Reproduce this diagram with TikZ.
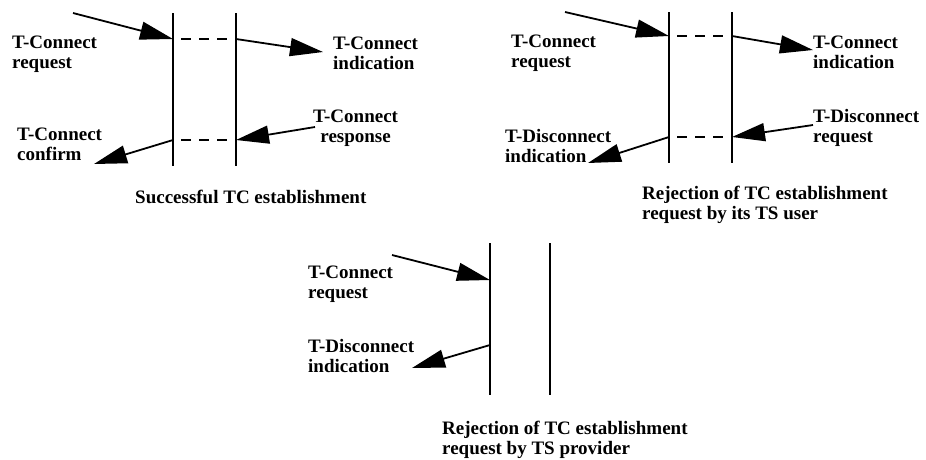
\documentclass[tikz,border=0pt]{standalone}
\usepackage{fontspec}
\setmainfont{Liberation Serif}
\usetikzlibrary{arrows.meta}
\tikzset{
  lifeline/.style={line width=2pt},
  gapline/.style={line width=2pt, dash pattern=on 10pt off 8pt, dash phase=10pt},
  prim/.style={line width=1.8pt, -{Triangle[length=33pt,width=18pt]}},
  % labels are placed by the baseline of their last line
  lbl/.style={inner sep=0pt, anchor=base west, align=left,
    font=\bfseries\fontsize{19}{20}\selectfont},
  lblc/.style={lbl, align=center},
  captiontext/.style={lbl}
}
\begin{document}
\begin{tikzpicture}[x=1pt,y=-1pt]
\useasboundingbox (0,0) rectangle (926,459);

% ---------- successful establishment ----------
\coordinate (a-lt) at (173,13);  \coordinate (a-lb) at (173,166);
\coordinate (a-rt) at (236,13);  \coordinate (a-rb) at (236,166);
\coordinate (a-l1) at (173,39);  \coordinate (a-r1) at (236,39);
\coordinate (a-l2) at (173,140); \coordinate (a-r2) at (236,140);
\coordinate (a-reqs) at (73,13);
\coordinate (a-inde) at (323,52);
\coordinate (a-ress) at (315,127);
\coordinate (a-cone) at (94,164);

\draw[lifeline] (a-lt) -- (a-lb);
\draw[lifeline] (a-rt) -- (a-rb);
\draw[gapline] (a-l1) -- (a-r1);
\draw[gapline] (a-l2) -- (a-r2);
\draw[prim] (a-reqs) -- (a-l1);
\draw[prim] (a-r1) -- (a-inde);
\draw[prim] (a-ress) -- (a-r2);
\draw[prim] (a-l2) -- (a-cone);

\node[lbl] (a-req) at (12,68) {T-Connect\\request};
\node[lbl] (a-ind) at (333,69) {T-Connect\\indication};
\node[lblc] (a-res) at (313,142) {T-Connect\\response};
\node[lbl] (a-con) at (17,160) {T-Connect\\confirm};
\node[captiontext] (a-cap) at (135,203) {Successful TC establishment};

% ---------- rejection by the TS user ----------
\coordinate (b-lt) at (669,12);  \coordinate (b-lb) at (669,163);
\coordinate (b-rt) at (732,12);  \coordinate (b-rb) at (732,163);
\coordinate (b-l1) at (669,36);  \coordinate (b-r1) at (732,36);
\coordinate (b-l2) at (669,137); \coordinate (b-r2) at (732,137);
\coordinate (b-reqs) at (565,12);
\coordinate (b-inde) at (813,50);
\coordinate (b-dreqs) at (813,125);
\coordinate (b-dinde) at (588,163);

\draw[lifeline] (b-lt) -- (b-lb);
\draw[lifeline] (b-rt) -- (b-rb);
\draw[gapline] (b-l1) -- (b-r1);
\draw[gapline] (b-l2) -- (b-r2);
\draw[prim] (b-reqs) -- (b-l1);
\draw[prim] (b-r1) -- (b-inde);
\draw[prim] (b-dreqs) -- (b-r2);
\draw[prim] (b-l2) -- (b-dinde);

\node[lbl] (b-req) at (511,67) {T-Connect\\request};
\node[lbl] (b-ind) at (813,68) {T-Connect\\indication};
\node[lbl] (b-dreq) at (813,142) {T-Disconnect\\request};
\node[lbl] (b-dind) at (505,162) {T-Disconnect\\indication};
\node[captiontext] (b-cap) at (642,219) {Rejection of TC establishment\\request by its TS user};

% ---------- rejection by the TS provider ----------
\coordinate (c-lt) at (490,243); \coordinate (c-lb) at (490,395);
\coordinate (c-rt) at (550,243); \coordinate (c-rb) at (550,395);
\coordinate (c-l1) at (490,280);
\coordinate (c-l2) at (490,345);
\coordinate (c-reqs) at (392,255);
\coordinate (c-dinde) at (412,368);

\draw[lifeline] (c-lt) -- (c-lb);
\draw[lifeline] (c-rt) -- (c-rb);
\draw[prim] (c-reqs) -- (c-l1);
\draw[prim] (c-l2) -- (c-dinde);

\node[lbl] (c-req) at (308,298) {T-Connect\\request};
\node[lbl] (c-dind) at (308,372) {T-Disconnect\\indication};
\node[captiontext] (c-cap) at (442,454) {Rejection of TC establishment\\request by TS provider};
\end{tikzpicture}
\end{document}
